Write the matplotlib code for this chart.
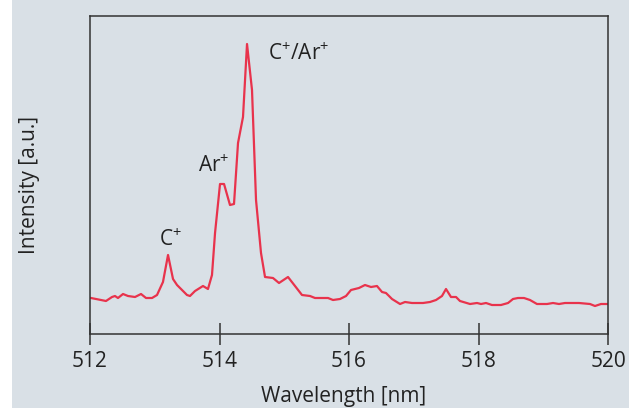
import matplotlib
matplotlib.use("Agg")
from matplotlib import pyplot as plt
from matplotlib.patches import Rectangle

# spectrum (wavelength in nm, intensity in a.u.)
wavelength = [512.015, 512.093, 512.247, 512.340, 512.386, 512.432, 512.510, 512.587,
              512.695, 512.788, 512.865, 512.958, 513.035, 513.127, 513.205, 513.282,
              513.344, 513.498, 513.544, 513.622, 513.745, 513.822, 513.884, 513.931,
              514.008, 514.070, 514.162, 514.224, 514.286, 514.363, 514.425, 514.502,
              514.564, 514.641, 514.703, 514.826, 514.919, 515.058, 515.274, 515.398,
              515.475, 515.676, 515.753, 515.861, 515.954, 516.031, 516.154, 516.247,
              516.340, 516.432, 516.510, 516.571, 516.618, 516.664, 516.788, 516.865,
              516.973, 517.143, 517.251, 517.344, 517.436, 517.498, 517.575, 517.653,
              517.714, 517.869, 517.977, 518.039, 518.116, 518.208, 518.347, 518.456,
              518.533, 518.610, 518.703, 518.795, 518.903, 519.058, 519.151, 519.243,
              519.336, 519.552, 519.722, 519.799, 519.892, 519.985]
intensity = [36, 35, 33, 37, 38, 36, 40, 38,
             37, 40, 36, 36, 39, 52, 79, 55,
             49, 39, 38, 43, 48, 45, 59, 101,
             150, 150, 129, 130, 191, 217, 290, 244,
             134, 81, 57, 56, 51, 57, 39, 38,
             36, 36, 34, 35, 38, 44, 46, 49,
             47, 48, 42, 41, 38, 35, 30, 32,
             31, 31, 32, 34, 38, 45, 37, 37,
             33, 30, 31, 30, 31, 29, 29, 31,
             35, 36, 36, 34, 30, 30, 31, 30,
             31, 31, 30, 28, 30, 30]

peak_labels = [r"C$^{+}$", r"Ar$^{+}$", r"C$^{+}$/Ar$^{+}$"]
peak_x = [513.24, 513.91, 515.22]
peak_y = [94, 168, 280]

xticks = [512, 514, 516, 518, 520]

bg = "#d9e0e6"
ink = "#333333"
fonts = ["Open Sans", "DejaVu Sans"]
plt.rcParams["font.family"] = fonts
plt.rcParams["mathtext.fontset"] = "custom"
plt.rcParams["mathtext.rm"] = "Open Sans"
plt.rcParams["mathtext.default"] = "regular"

fig = plt.figure(figsize=(6.29, 4.08), dpi=100, facecolor=bg)
# white strip on the left edge
fig.patches.append(Rectangle((0, 0), 12 / 629, 1, transform=fig.transFigure,
                             facecolor="white", edgecolor="none", zorder=0))

ax = fig.add_axes([90 / 629, 74 / 408, 518 / 629, 318 / 408])
ax.set_facecolor(bg)
ax.plot(wavelength, intensity, color="#e8334c", lw=1.6)

for lab, x, y in zip(peak_labels, peak_x, peak_y):
    ax.text(x, y, lab, fontsize=15, color="#222222", ha="center", va="center")

ax.set_xlim(512, 520)
ax.set_ylim(0, 318)
ax.set_xticks(xticks)
ax.set_yticks([])
ax.tick_params(axis="x", direction="inout", length=16, width=1.1, color=ink,
               labelsize=15, labelcolor="#222222", pad=4)
for s in ax.spines.values():
    s.set_color(ink)
    s.set_linewidth(1.1)

ax.set_xlabel("Wavelength [nm]", fontsize=15, color="#222222")
ax.set_ylabel("Intensity [a.u.]", fontsize=15, color="#222222")
ax.xaxis.set_label_coords(0.49, -0.165)
ax.yaxis.set_label_coords(-0.097, 0.47)

fig.savefig("out.png", dpi=100, facecolor=bg)
